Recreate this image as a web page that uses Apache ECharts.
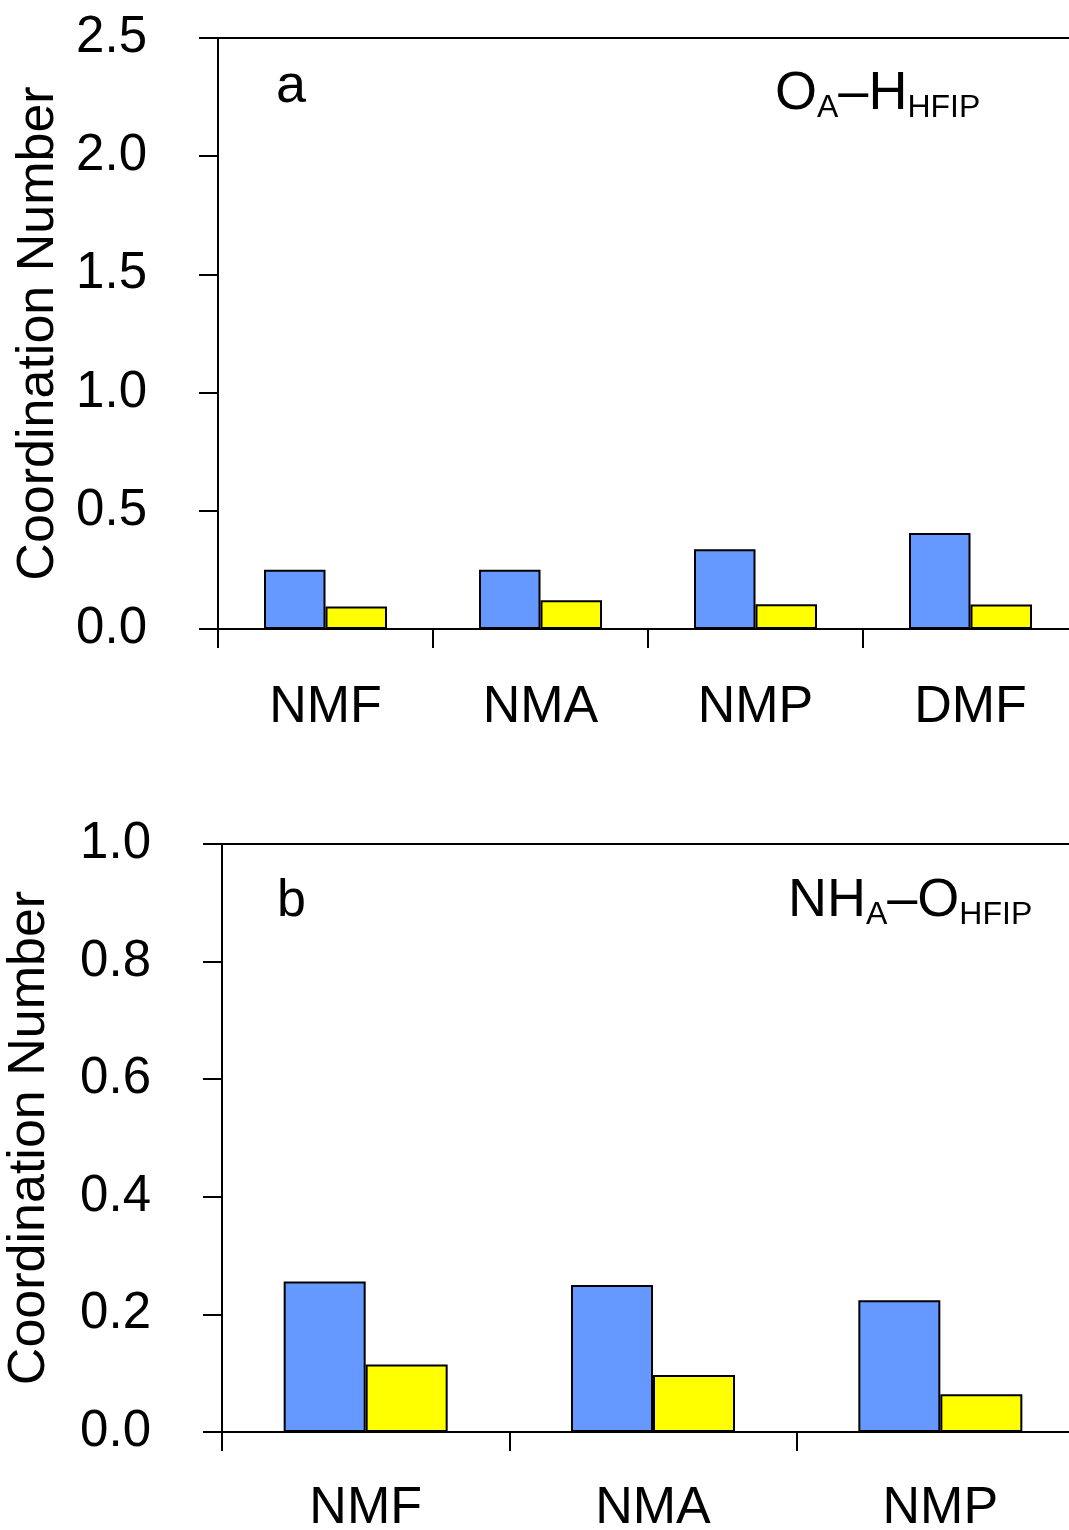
<!DOCTYPE html>
<html>
<head>
<meta charset="utf-8">
<script src="https://cdn.jsdelivr.net/npm/echarts@6/dist/echarts.min.js"></script>
<style>html,body{margin:0;padding:0;background:#fff}#c{width:1069px;height:1530px}</style>
</head>
<body>
<div id="c"></div>
<script>
// ---- data ----
var categoriesA = ['NMF', 'NMA', 'NMP', 'DMF'];
var blueA = [0.251, 0.251, 0.337, 0.406];
var yellowA = [0.095, 0.122, 0.105, 0.104];
var categoriesB = ['NMF', 'NMA', 'NMP'];
var blueB = [0.256, 0.250, 0.224];
var yellowB = [0.115, 0.097, 0.064];
var yTicksA = [0, 0.5, 1.0, 1.5, 2.0, 2.5];
var yTicksB = [0, 0.2, 0.4, 0.6, 0.8, 1.0];
var yTitle = 'Coordination Number';

var FONT = '"Liberation Sans", Arial, sans-serif';
var BLUE = '#6699FF', YELLOW = '#FFFF00';
var lineStyle = {color: '#000', width: 2};

function xAxes(grid, cats, margin) {
  return [{
    type: 'category', gridIndex: grid, data: cats, position: 'bottom',
    axisLine: {show: true, lineStyle: lineStyle},
    axisTick: {show: true, length: 19, lineStyle: lineStyle, alignWithLabel: false},
    axisLabel: {show: true, margin: margin, color: '#000', fontSize: 52, fontFamily: FONT},
    splitLine: {show: false}
  }, {
    type: 'category', gridIndex: grid, data: cats, position: 'top',
    axisLine: {show: true, lineStyle: lineStyle},
    axisTick: {show: false}, axisLabel: {show: false}, splitLine: {show: false}
  }];
}
function yAxis(grid, ticks, gap) {
  return {
    type: 'value', gridIndex: grid,
    min: ticks[0], max: ticks[ticks.length - 1], interval: ticks[1] - ticks[0],
    name: yTitle, nameLocation: 'middle', nameGap: gap,
    nameTextStyle: {color: '#000', fontSize: 52, fontFamily: FONT},
    axisLine: {show: true, lineStyle: lineStyle},
    axisTick: {show: true, inside: false, length: 19, lineStyle: lineStyle},
    axisLabel: {margin: 71, color: '#000', fontSize: 51, fontFamily: FONT,
      formatter: function (v) { return v.toFixed(1); }},
    splitLine: {show: false}
  };
}
function bars(name, data, color, xi, yi, w) {
  return {
    type: 'bar', name: name, data: data, xAxisIndex: xi, yAxisIndex: yi,
    barWidth: w, barGap: '0%',
    itemStyle: {color: color, borderColor: '#000', borderWidth: 2},
    animation: false
  };
}
var rich = {
  m: {fontSize: 54, fontFamily: FONT, color: '#000', lineHeight: 60},
  s: {fontSize: 32, fontFamily: FONT, color: '#000', lineHeight: 31, verticalAlign: 'bottom'}
};
var chart = echarts.init(document.getElementById('c'), null, {renderer: 'canvas'});
chart.setOption({
  animation: false,
  backgroundColor: '#fff',
  grid: [
    {left: 218, top: 38, bottom: 901, right: -9, containLabel: false, outerBoundsMode: 'none'},
    {left: 222, top: 844, bottom: 98, right: -15, containLabel: false, outerBoundsMode: 'none'}
  ],
  xAxis: xAxes(0, categoriesA, 53).concat(xAxes(1, categoriesB, 51)),
  yAxis: [yAxis(0, yTicksA, 153), yAxis(1, yTicksB, 166)],
  series: [
    bars('blue', blueA, BLUE, 0, 0, 61.5),
    bars('yellow', yellowA, YELLOW, 0, 0, 61.5),
    bars('blue', blueB, BLUE, 2, 1, 82),
    bars('yellow', yellowB, YELLOW, 2, 1, 82)
  ],
  graphic: [
    {type: 'text', left: 290 - 14, top: 60, style: {text: 'a', fontSize: 54, fontFamily: FONT, fill: '#000'}},
    {type: 'text', left: 292 - 15, top: 876, style: {text: 'b', fontSize: 52, fontFamily: FONT, fill: '#000'}},
    {type: 'text', x: 775, y: 64, style: {text: '{m|O}{s|A}{m|–H}{s|HFIP}', rich: rich, verticalAlign: 'top'}},
    {type: 'text', x: 788, y: 871, style: {text: '{m|NH}{s|A}{m|–O}{s|HFIP}', rich: rich, verticalAlign: 'top'}}
  ]
});
</script>
</body>
</html>
